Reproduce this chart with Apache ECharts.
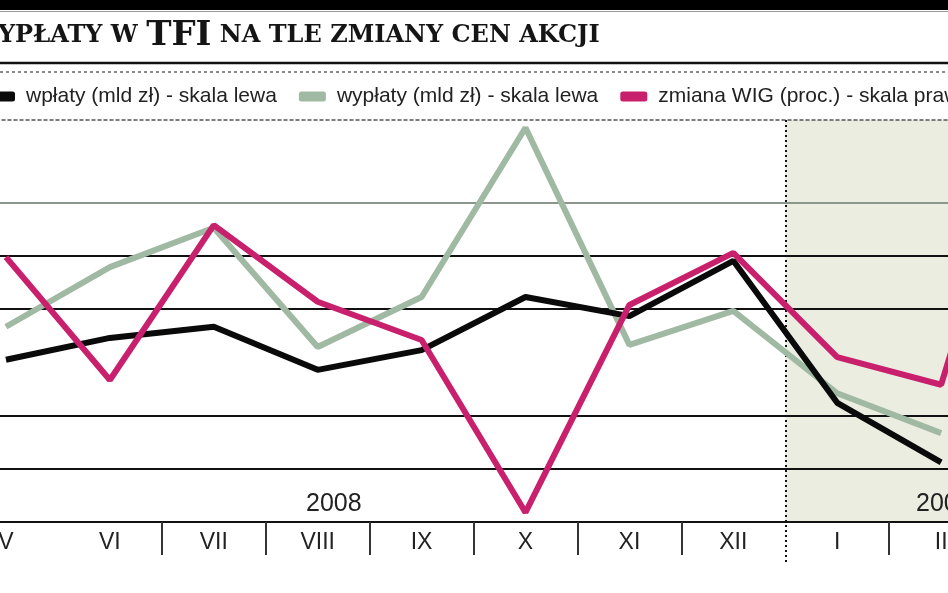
<!DOCTYPE html>
<html>
<head>
<meta charset="utf-8">
<script src="https://cdn.jsdelivr.net/npm/echarts@6/dist/echarts.min.js"></script>
<style>html,body{margin:0;padding:0;background:#fff;}#c{width:948px;height:593px;}</style>
</head>
<body>
<div id="c"></div>
<script>
// Months (last one lies beyond the visible frame)
const months = ['V','VI','VII','VIII','IX','X','XI','XII','I','II','III'];
// Band boundaries used by the helper axis (shading / dotted separator)
const bounds = ['b0','b1','b2','b3','b4','b5','b6','b7','b8','b9','b10','b11'];
// wpłaty (mld zł) - skala lewa
const wplaty  = [3.05, 3.46, 3.67, 2.86, 3.23, 4.23, 3.87, 4.91, 2.24, 1.12, null];
// wypłaty (mld zł) - skala lewa
const wyplaty = [3.67, 4.79, 5.53, 3.29, 4.23, 7.41, 3.33, 3.97, 2.42, 1.67, null];
// zmiana WIG (proc.) - skala prawa
const wig     = [-0.1, -11.65, 2.9, -4.3, -7.9, -24.1, -4.6, 0.3, -9.5, -12.1, 20];
const yearLabels = ['2008', '2009'];
const legendNames = ['wpłaty (mld zł) - skala lewa', 'wypłaty (mld zł) - skala lewa', 'zmiana WIG (proc.) - skala prawa'];

const NARROW = "'Liberation Sans Narrow', 'Liberation Sans', Arial, sans-serif";
const chart = echarts.init(document.getElementById('c'), null, {renderer: 'canvas'});
const T = 'rgba(0,0,0,0)';
const SHADE = '#eaede0';

chart.setOption({
  animation: false,
  backgroundColor: '#ffffff',
  title: {
    text: '{s|WYPŁATY W }{b|TFI}{s| NA TLE ZMIANY CEN AKCJI}',
    left: -29, top: 19, padding: 0,
    textStyle: {
      rich: {
        s: {fontFamily: 'DejaVu Serif', fontWeight: 'bold', fontSize: 24, color: '#151515'},
        b: {fontFamily: 'DejaVu Serif', fontWeight: 'bold', fontSize: 34, color: '#151515'}
      }
    }
  },
  legend: {
    left: -12, top: 86, padding: 0, width: 1300, orient: 'horizontal',
    itemWidth: 27, itemHeight: 10, itemGap: 22,
    icon: 'roundRect',
    data: legendNames,
    textStyle: {fontFamily: NARROW, fontSize: 21, color: '#222', padding: [0, 0, 0, 6]}
  },
  grid: {left: -46, right: -149, top: 120, bottom: 71, containLabel: false, outerBoundsMode: 'none'},
  xAxis: [
    {
      type: 'category', data: months, position: 'bottom', boundaryGap: true, z: 3,
      axisLine: {onZero: false, lineStyle: {color: '#111', width: 2}},
      axisTick: {show: true, length: 33, interval: function (i) { return i !== 8 && i !== 1; }, lineStyle: {color: '#333', width: 2}},
      axisLabel: {interval: 0, margin: 9, fontFamily: NARROW, fontSize: 23, color: '#222'},
      splitLine: {show: false}
    },
    {
      type: 'category', data: bounds, position: 'top', boundaryGap: false, z: 0,
      axisLine: {show: true, onZero: false, lineStyle: {color: '#555', width: 1.5, type: [3, 3]}},
      axisTick: {show: true, inside: true, length: 442, interval: function (i) { return i === 8; }, lineStyle: {color: '#111', width: 2, type: [2, 3]}},
      axisLabel: {show: false, interval: 0},
      splitLine: {show: false},
      splitArea: {show: true, interval: 0, areaStyle: {color: [T, T, T, T, T, T, T, T, SHADE, SHADE, SHADE]}}
    }
  ],
  yAxis: [
    {
      type: 'value', position: 'left', min: 0, max: 402 / 53.2, interval: 1, z: 1,
      axisLine: {show: false}, axisTick: {show: false}, axisLabel: {show: false},
      splitLine: {show: true, lineStyle: {width: 1.8, color: ['#111', '#111', '#111', T, '#111', '#111', '#8d968d', T, T]}}
    },
    {
      type: 'value', position: 'right', min: -25, max: -25 + 5 * 402 / 53.2, interval: 5,
      axisLine: {show: false}, axisTick: {show: false}, axisLabel: {show: false}, splitLine: {show: false}
    }
  ],
  graphic: [
    {type: 'rect', shape: {x: 0, y: 0, width: 948, height: 10}, style: {fill: '#000'}, silent: true},
    {type: 'line', shape: {x1: 0, y1: 11.5, x2: 948, y2: 11.5}, style: {stroke: '#999', lineWidth: 1}, silent: true},
    {type: 'line', shape: {x1: 0, y1: 63, x2: 948, y2: 63}, style: {stroke: '#111', lineWidth: 2.5}, silent: true},
    {type: 'line', shape: {x1: 0, y1: 72, x2: 948, y2: 72}, style: {stroke: '#666', lineWidth: 1.5, lineDash: [3, 3]}, silent: true},
    {type: 'text', left: 306, top: 492, z: 5, style: {text: yearLabels[0], fontFamily: NARROW, fontSize: 25, fill: '#222'}},
    {type: 'text', left: 916, top: 492, z: 5, style: {text: yearLabels[1], fontFamily: NARROW, fontSize: 25, fill: '#222'}}
  ],
  series: [
    {
      name: legendNames[1], type: 'line', data: wyplaty, xAxisIndex: 0, yAxisIndex: 0,
      symbol: 'none', color: '#a0b9a2', lineStyle: {width: 6, color: '#a0b9a2'}, z: 2
    },
    {
      name: legendNames[0], type: 'line', data: wplaty, xAxisIndex: 0, yAxisIndex: 0,
      symbol: 'none', color: '#0a0a0a', lineStyle: {width: 6, color: '#0a0a0a'}, z: 3
    },
    {
      name: legendNames[2], type: 'line', data: wig, xAxisIndex: 0, yAxisIndex: 1,
      symbol: 'none', color: '#c8206c', lineStyle: {width: 6, color: '#c8206c'}, z: 4
    }
  ]
});
</script>
</body>
</html>
